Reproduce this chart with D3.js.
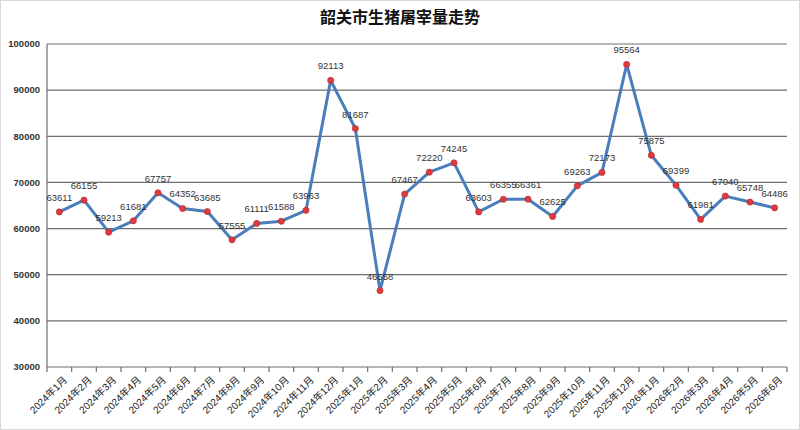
<!DOCTYPE html>
<html>
<head>
<meta charset="utf-8">
<script src="https://cdn.jsdelivr.net/npm/d3@7"></script>
<style>
  body { margin: 0; background: #fff; }
  svg { display: block; }
  .grid line { stroke: #6e6e6e; stroke-width: 1.2; }
  .ylab { font: bold 9.5px "Liberation Sans", Arial, sans-serif; fill: #333; }
  .xlab { font: 10px "Liberation Sans", "Noto Sans CJK SC", sans-serif; fill: #222; }
  .vlab { font: 9.5px "Liberation Sans", Arial, sans-serif; fill: #333; }
</style>
</head>
<body>
<svg id="chart"></svg>
<script>
const months = ["2024年1月","2024年2月","2024年3月","2024年4月","2024年5月","2024年6月","2024年7月","2024年8月","2024年9月","2024年10月","2024年11月","2024年12月",
  "2025年1月","2025年2月","2025年3月","2025年4月","2025年5月","2025年6月","2025年7月","2025年8月","2025年9月","2025年10月","2025年11月","2025年12月",
  "2026年1月","2026年2月","2026年3月","2026年4月","2026年5月","2026年6月"];
const values = [63611,66155,59213,61681,67757,64352,63685,57555,61111,61588,63963,92113,
  81687,46558,67467,72220,74245,63603,66355,66361,62625,69263,72173,95564,
  75875,69399,61981,67040,65748,64486];
const yTicks = [30000,40000,50000,60000,70000,80000,90000,100000];

const W = 800, H = 430;
const margin = {left: 47, right: 13, top: 44, bottom: 63};

const svg = d3.select("#chart").attr("width", W).attr("height", H);

// outer frame
svg.append("rect").attr("x", 0.5).attr("y", 0.5).attr("width", W - 1).attr("height", H - 1)
    .attr("fill", "#fff").attr("stroke", "#d8d8d8");

svg.append("text").attr("x", 400).attr("y", 23).attr("text-anchor", "middle")
    .style("font", "bold 16px 'Noto Sans CJK SC', sans-serif").attr("fill", "#111")
    .text("韶关市生猪屠宰量走势");

const x = d3.scaleBand().domain(months).range([margin.left, W - margin.right]);
const y = d3.scaleLinear().domain([30000, 100000]).range([H - margin.bottom, margin.top]);

// gridlines
svg.append("g").attr("class", "grid")
    .selectAll("line").data(yTicks).join("line")
    .attr("x1", margin.left).attr("x2", W - margin.right)
    .attr("y1", d => y(d)).attr("y2", d => y(d));

// y axis
svg.append("line").attr("x1", margin.left).attr("x2", margin.left)
    .attr("y1", y(30000)).attr("y2", y(100000)).attr("stroke", "#6e6e6e").attr("stroke-width", 1.2);
svg.append("g").selectAll("text").data(yTicks).join("text")
    .attr("class", "ylab").attr("x", margin.left - 7).attr("y", d => y(d)).attr("dy", "0.35em")
    .attr("text-anchor", "end").text(d => d);

// x axis ticks on category boundaries
const bounds = months.map(m => x(m)).concat([W - margin.right]);
svg.append("g").selectAll("line").data(bounds).join("line")
    .attr("x1", d => d).attr("x2", d => d)
    .attr("y1", y(30000)).attr("y2", y(30000) + 5)
    .attr("stroke", "#6e6e6e").attr("stroke-width", 1.2);

svg.append("g").selectAll("text").data(months).join("text")
    .attr("class", "xlab").attr("text-anchor", "end")
    .attr("transform", d => `translate(${x(d) + x.bandwidth() / 2 + 6},${y(30000) + 11}) rotate(-45)`)
    .attr("dy", "0.35em").text(d => d);

// line
const cx = (d, i) => x(months[i]) + x.bandwidth() / 2;
svg.append("path").datum(values)
    .attr("fill", "none").attr("stroke", "#4a7ebb").attr("stroke-width", 3)
    .attr("stroke-linejoin", "round")
    .attr("d", d3.line().x(cx).y(d => y(d)));

svg.append("g").selectAll("circle").data(values).join("circle")
    .attr("cx", cx).attr("cy", d => y(d)).attr("r", 3.1)
    .attr("fill", "#e0393e").attr("stroke", "#b02a30").attr("stroke-width", 0.6);

svg.append("g").selectAll("text").data(values).join("text")
    .attr("class", "vlab").attr("text-anchor", "middle")
    .attr("x", cx).attr("y", d => y(d) - 11).text(d => d);
</script>
</body>
</html>
